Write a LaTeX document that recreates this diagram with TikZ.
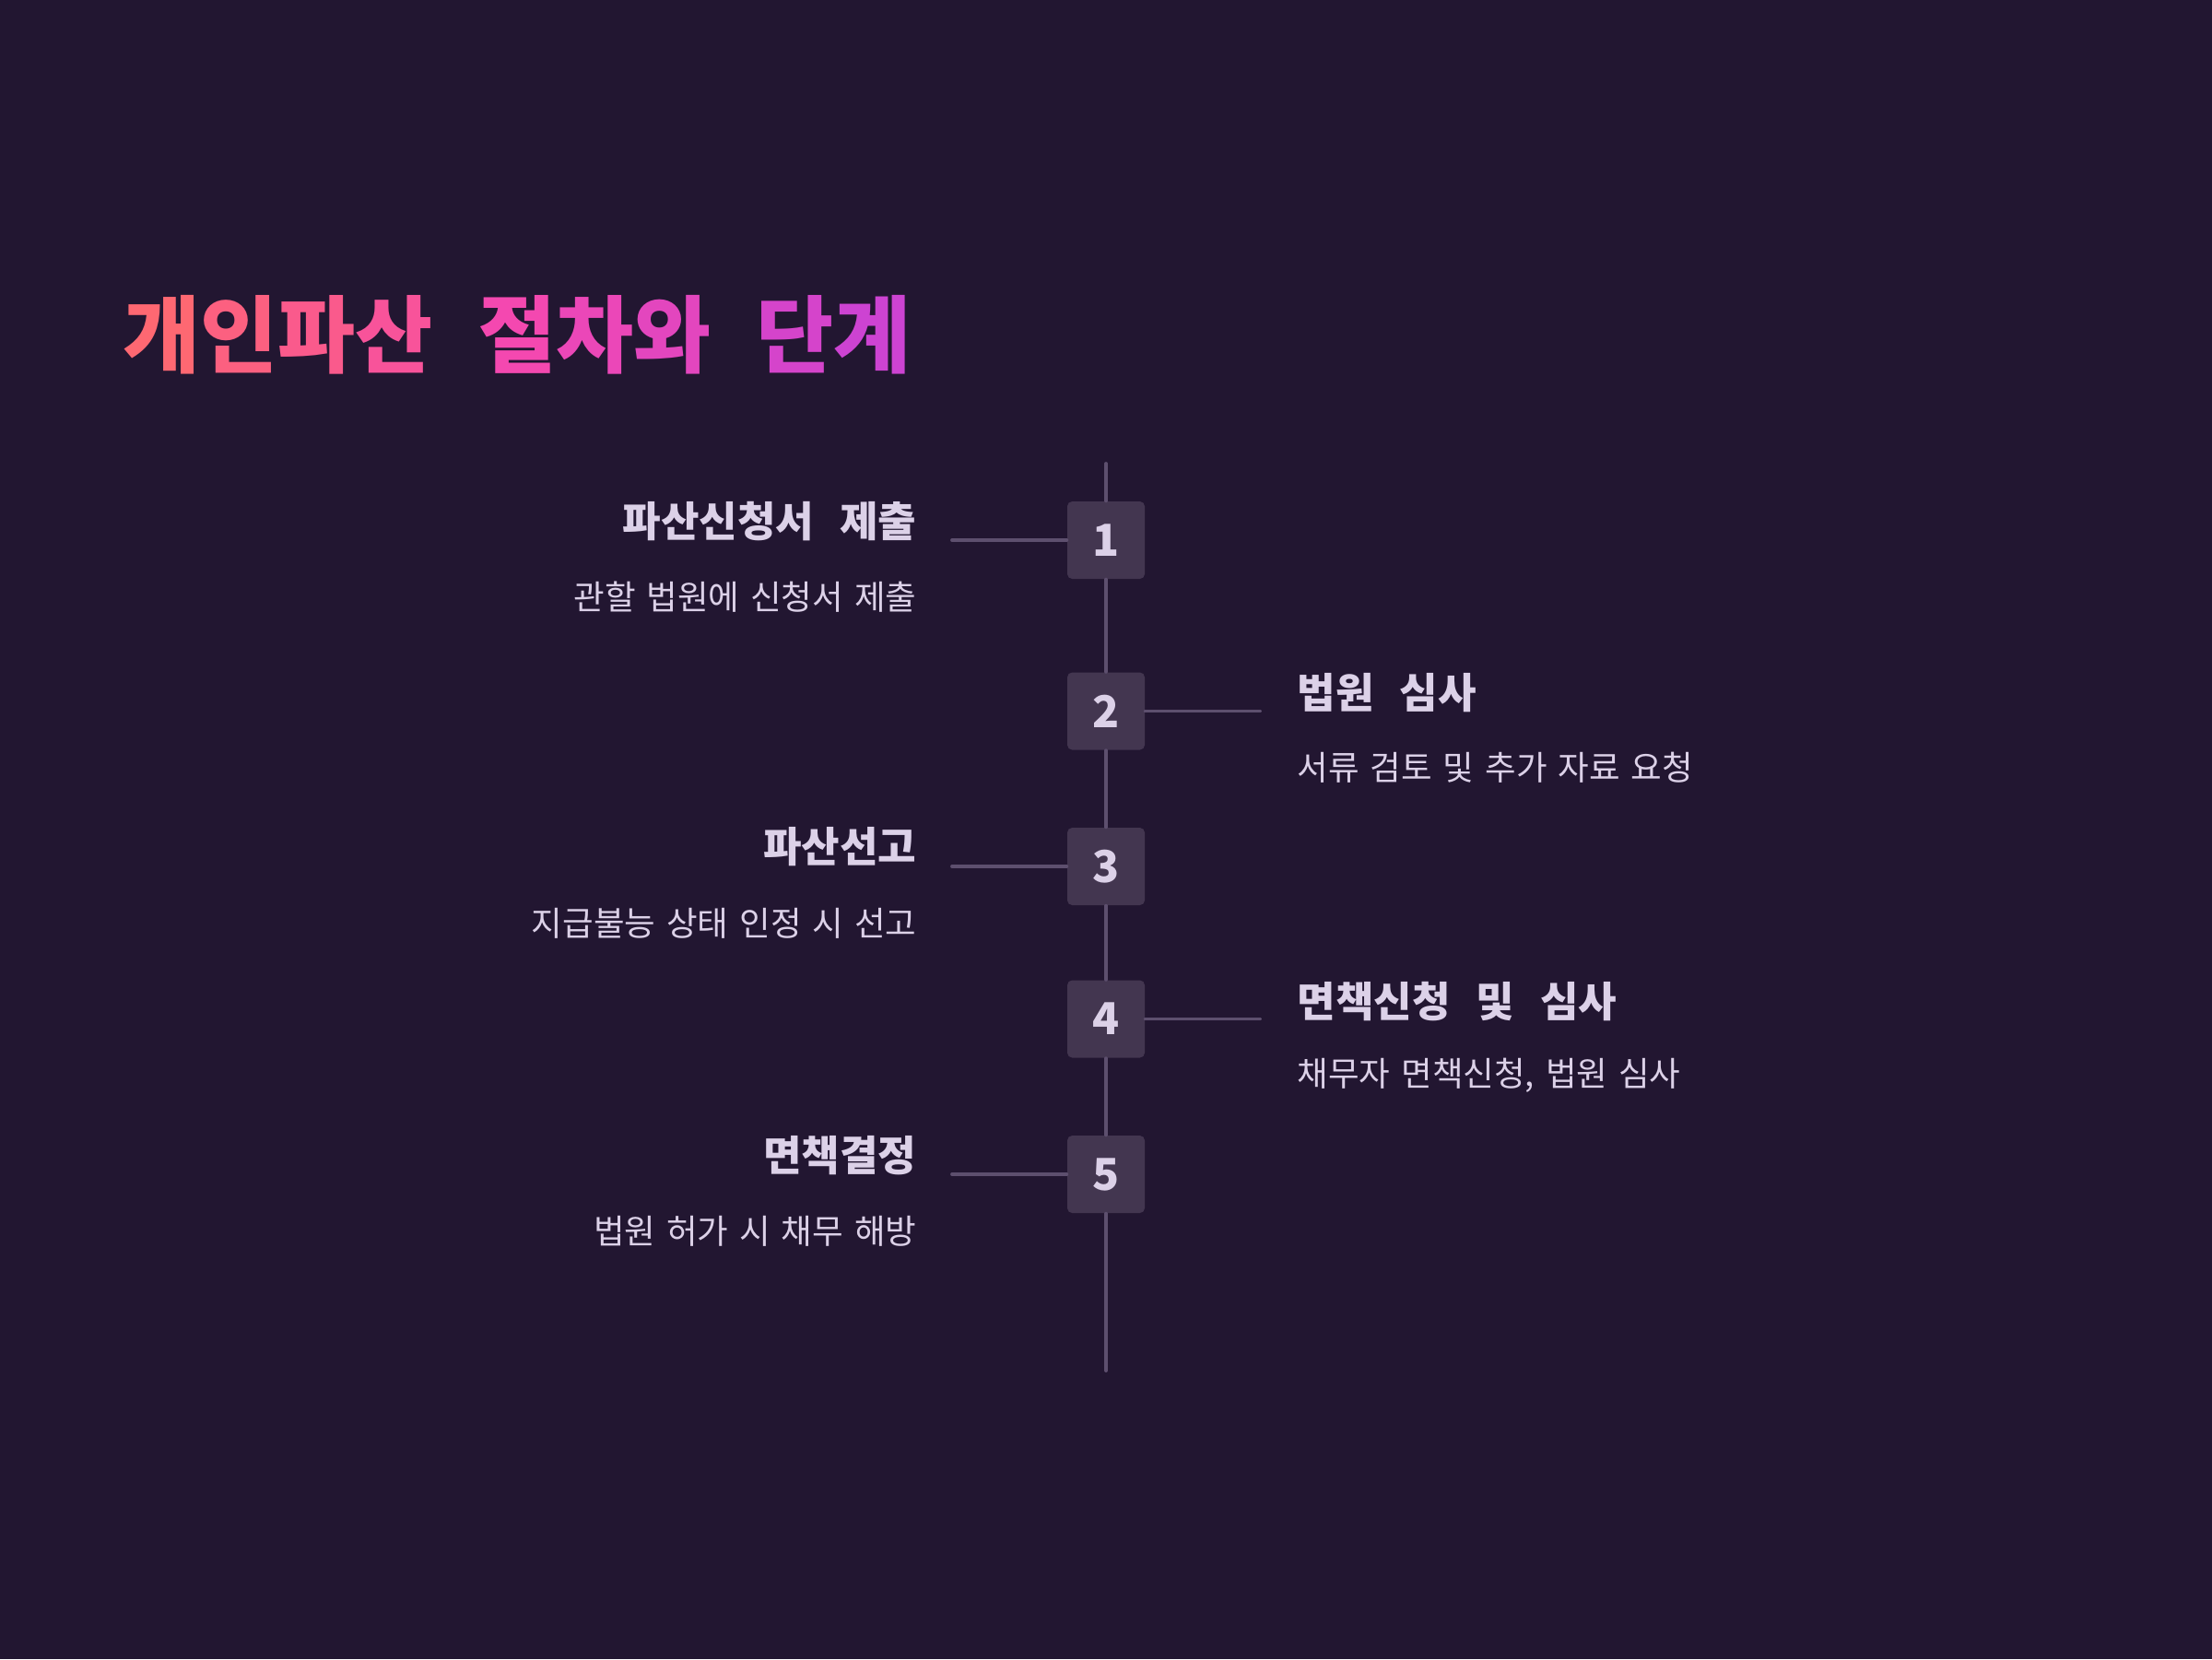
\documentclass[tikz,border=0pt]{standalone}
\usepackage{fontspec}
\usepackage{xcolor}
\usepackage{tikz}
\newfontfamily\krhead[WordSpace=2.4]{Noto Sans CJK KR}
\newfontfamily\krbody[WordSpace=1.45]{Noto Sans CJK KR}
\newcommand{\tgap}{\hspace{0.19cm}}
\newcommand{\hgap}{\hspace{0.13cm}}
\definecolor{my_bg}{HTML}{221631}
\definecolor{my_box}{HTML}{433650}
\definecolor{my_line}{HTML}{5D4F6E}
\definecolor{my_text}{HTML}{DCD1E8}
\definecolor{my_coral}{HTML}{FF6B6B}
\definecolor{my_pink}{HTML}{F448B0}
\definecolor{my_violet}{HTML}{C842D6}

\begin{document}
\begin{tikzpicture}[
    titletext/.style={anchor=west, inner sep=0pt, font=\krhead\bfseries\fontsize{26}{31}\selectfont},
    stepbox/.style={fill=my_box, rounded corners=1.5pt, minimum size=0.84cm, inner sep=0pt,
        text=my_text, font=\krhead\bfseries\fontsize{13.6}{16}\selectfont},
    headtext/.style={text=my_text, inner sep=0pt, font=\krhead\bfseries\fontsize{12.85}{15}\selectfont},
    bodytext/.style={text=my_text, inner sep=0pt, font=\krbody\fontsize{10.4}{12.5}\selectfont},
    conn/.style={my_line, line width=1.1pt, line cap=round}
]
\useasboundingbox (0, 0) rectangle (24, -18);
\fill[my_bg] (0, 0) rectangle (24, -18);

% ---- Titel mit Farbverlauf ----
\node[titletext] (title) at (1.33, -3.63) {%
    \textcolor{my_pink!10!my_coral}{개}\textcolor{my_pink!30!my_coral}{인}%
    \textcolor{my_pink!48!my_coral}{파}\textcolor{my_pink!68!my_coral}{산} \tgap
    \textcolor{my_pink}{절}\textcolor{my_violet!20!my_pink}{차}%
    \textcolor{my_violet!38!my_pink}{와} \tgap
    \textcolor{my_violet!70!my_pink}{단}\textcolor{my_violet!90!my_pink}{계}};

% ---- Zeitleiste ----
\node[stepbox] (s1) at (12, -5.86) {1};
\node[stepbox] (s2) at (12, -7.715) {2};
\node[stepbox] (s3) at (12, -9.40) {3};
\node[stepbox] (s4) at (12, -11.055) {4};
\node[stepbox] (s5) at (12, -12.74) {5};
\coordinate (top) at (12, -5.03);
\coordinate (bottom) at (12, -14.87);
\draw[conn] (top) -- (s1.north);
\draw[conn] (s1.south) -- (s2.north);
\draw[conn] (s2.south) -- (s3.north);
\draw[conn] (s3.south) -- (s4.north);
\draw[conn] (s4.south) -- (s5.north);
\draw[conn] (s5.south) -- (bottom);

% ---- Schritt 1 (links) ----
\coordinate (c1) at (10.33, -5.86);
\draw[conn] (c1) -- (s1.west);
\node[headtext, anchor=east] (t1) at (9.95, -5.66) {파산신청서 \hgap 제출};
\node[bodytext, anchor=east] (d1) at (9.95, -6.475) {관할 법원에 신청서 제출};

% ---- Schritt 2 (rechts) ----
\coordinate (c2) at (13.67, -7.715);
\draw[conn] (s2.east) -- (c2);
\node[headtext, anchor=west] (t2) at (14.07, -7.515) {법원 \hgap 심사};
\node[bodytext, anchor=west] (d2) at (14.07, -8.33) {서류 검토 및 추가 자료 요청};

% ---- Schritt 3 (links) ----
\coordinate (c3) at (10.33, -9.40);
\draw[conn] (c3) -- (s3.west);
\node[headtext, anchor=east] (t3) at (9.95, -9.19) {파산선고};
\node[bodytext, anchor=east] (d3) at (9.95, -10.015) {지급불능 상태 인정 시 선고};

% ---- Schritt 4 (rechts) ----
\coordinate (c4) at (13.67, -11.055);
\draw[conn] (s4.east) -- (c4);
\node[headtext, anchor=west] (t4) at (14.07, -10.87) {면책신청 \hgap 및 \hgap 심사};
\node[bodytext, anchor=west] (d4) at (14.07, -11.67) {채무자 면책신청, 법원 심사};

% ---- Schritt 5 (links) ----
\coordinate (c5) at (10.33, -12.74);
\draw[conn] (c5) -- (s5.west);
\node[headtext, anchor=east] (t5) at (9.95, -12.54) {면책결정};
\node[bodytext, anchor=east] (d5) at (9.95, -13.355) {법원 허가 시 채무 해방};

\end{tikzpicture}
\end{document}
